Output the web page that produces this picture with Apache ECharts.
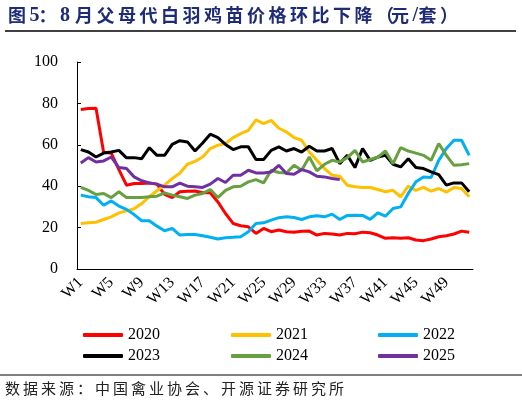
<!DOCTYPE html>
<html>
<head>
<meta charset="utf-8">
<script src="https://cdn.jsdelivr.net/npm/echarts@6/dist/echarts.min.js"></script>
<style>
html, body { margin: 0; padding: 0; background: #fff; }
#chart { width: 522px; height: 405px; }
</style>
</head>
<body>
<div id="chart"></div>
<script>
// 周次 W1..W52
var weeks = [];
for (var w = 1; w <= 52; w++) weeks.push('W' + w);

var years = ['2020', '2021', '2022', '2023', '2024', '2025'];
var colors = ['#ff0000', '#ffc000', '#00b0f0', '#000000', '#66a040', '#7030a0'];

var y2020 = [77, 77.5, 77.7, 56.3, 56, 48, 40.5, 41.3, 41.3, 41.5, 41, 36, 34.5, 37.3, 37.6, 37.7, 36.8, 36.8, 32.4, 26.8,
  22, 20.9, 20.4, 17.2, 19.6, 18, 18.8, 18, 17.7, 18.2, 18.3, 16.4, 17.2, 16.9, 16.4, 17.2, 17, 17.8, 17.5, 16.4,
  14.8, 15.1, 14.8, 15.1, 14, 13.7, 14.5, 15.6, 16.1, 16.9, 18.3, 17.8];
var y2021 = [22, 22.3, 22.6, 23.9, 25.2, 27.1, 28.1, 29.1, 31.6, 34.9, 37.8, 40.5, 43.7, 46.3, 50.6, 52, 54.1, 58.2, 59.8, 60.6,
  63.5, 65.4, 67, 72.1, 70.2, 71.8, 68, 66.2, 63.5, 62.2, 56.5, 52.5, 48.5, 45.3, 44.8, 40.5, 39.7, 39.4, 39.4, 38.4,
  37.3, 38, 34.9, 40, 38, 39.4, 37.6, 38.9, 37.1, 39.4, 38.9, 34.9];
var y2022 = [35.7, 34.9, 34.5, 30.8, 32.9, 30.4, 28.8, 26.3, 23.3, 23.3, 20.7, 18.5, 19.6, 16.4, 16.7, 16.7, 16.1, 15.3, 14.5, 15.1,
  15.3, 15.6, 18, 22, 22.3, 23.6, 24.8, 25.2, 24.9, 23.9, 25.2, 25.7, 25.2, 26.5, 23.9, 25.9, 26, 25.9, 24, 27.1,
  25.5, 29.2, 30, 36.5, 42.1, 44.5, 44.2, 52.5, 58.2, 62.2, 62.2, 54.9];
var y2023 = [57.7, 56.5, 54.1, 56, 56.5, 57.3, 53.7, 53.8, 53.3, 58.6, 54.9, 54.9, 60.2, 62, 61.4, 57, 60.9, 65.1, 63.5, 60.2,
  57.7, 59, 59, 52.9, 52.9, 57.3, 59, 57, 58.2, 56.5, 59.3, 57, 57, 58.2, 50.9, 54.9, 49, 58.2, 52.5, 54.1,
  54.9, 50.6, 49.3, 53.3, 49, 48.5, 46.9, 45.6, 40.5, 41.6, 41.6, 37.3];
var y2024 = [39.4, 38, 36, 36.5, 34.5, 37.3, 34.5, 34.5, 34.5, 34.9, 35.2, 36.8, 35.7, 34.9, 34.1, 35.7, 36.5, 38.4, 34.5, 38,
  39.7, 40, 42.1, 43.2, 41.6, 47.7, 46.6, 46.4, 50.1, 47.7, 54.1, 47.4, 50.6, 52.5, 51.7, 53.8, 57.3, 51.7, 52.9, 54,
  57, 50.9, 58.6, 57, 56, 54.9, 52.5, 60.6, 54.9, 50.1, 50.4, 50.9];
var y2025 = [51.2, 53.8, 51.7, 52.2, 54.1, 49, 48.5, 44.5, 42.6, 41.6, 41, 39.7, 39.7, 41.5, 40, 39.7, 39.4, 41, 43.7, 41.8,
  45.3, 45.3, 47.7, 46.4, 46.4, 46.9, 50.1, 46.1, 45.8, 48, 46.9, 44.8, 44.5, 43.7, 43.2];

var yTicks = { min: 0, max: 100, interval: 20 };

var titleText = '图5：8 月父母代白羽鸡苗价格环比下降（元/套）';
var sourceText = '数据来源：中国禽业协会、开源证券研究所';

var serif = '"Liberation Serif", "Times New Roman", serif';
var cjk = '"Noto Sans CJK SC", sans-serif';

var allData = [y2020, y2021, y2022, y2023, y2024, y2025];
var series = years.map(function (name, i) {
  return {
    name: name,
    type: 'line',
    data: allData[i],
    symbol: 'none',
    showSymbol: false,
    lineStyle: { color: colors[i], width: 3 },
    itemStyle: { color: colors[i] },
    animation: false
  };
});

// 标题逐字排, 原图字距较宽
var halfW = { '5': 9, '8': 9, ' ': 6, '/': 6, '（': 15 };
var titleEls = [];
var tx = 8;
titleText.split('').forEach(function (ch) {
  var ascii = /[0-9\/ ]/.test(ch);
  titleEls.push({
    type: 'text',
    left: tx,
    top: 6,
    style: {
      text: ch,
      font: 'bold ' + (ascii ? '20px ' + serif : '18px ' + cjk),
      fill: '#1d2b78'
    }
  });
  tx += halfW[ch] !== undefined ? halfW[ch] : 21.5;
});

// 数据来源一行, 逐字摆放以保留字距
var footer = sourceText.split('').map(function (ch, i) {
  return {
    type: 'text',
    left: 5 + i * 18,
    top: 381,
    style: { text: ch, font: '15px ' + cjk, fill: '#222' }
  };
});

var legendBase = {
  orient: 'vertical',
  top: 322,
  itemWidth: 40,
  itemHeight: 4,
  itemGap: 5,
  icon: 'roundRect',
  textStyle: { fontFamily: serif, fontSize: 16, color: '#000' }
};

var option = {
  backgroundColor: '#fff',
  animation: false,
  color: colors,
  legend: [
    Object.assign({}, legendBase, { left: 78, data: ['2020', '2023'] }),
    Object.assign({}, legendBase, { left: 226, data: ['2021', '2024'] }),
    Object.assign({}, legendBase, { left: 373, data: ['2022', '2025'] })
  ],
  grid: { left: 77, right: 49, top: 62, bottom: 136, containLabel: false },
  xAxis: {
    type: 'category',
    data: weeks,
    boundaryGap: true,
    axisLine: { lineStyle: { color: '#000', width: 1 } },
    axisTick: { inside: true, length: 4, interval: 3, lineStyle: { color: '#000' } },
    axisLabel: { interval: 3, rotate: 45, margin: 11, fontFamily: serif, fontSize: 16, color: '#000' },
    splitLine: { show: false }
  },
  yAxis: {
    type: 'value',
    min: yTicks.min,
    max: yTicks.max,
    interval: yTicks.interval,
    axisLine: { show: true, lineStyle: { color: '#000', width: 1 } },
    axisTick: { show: true, inside: true, length: 4, lineStyle: { color: '#000' } },
    axisLabel: { margin: 19, fontFamily: serif, fontSize: 16, color: '#000' },
    splitLine: { show: false }
  },
  graphic: [
    { type: 'line', shape: { x1: 5, y1: 31, x2: 516, y2: 31 }, style: { stroke: '#000', lineWidth: 1.5 } },
    { type: 'line', shape: { x1: 0, y1: 375, x2: 522, y2: 375 }, style: { stroke: '#000', lineWidth: 1 } }
  ].concat(titleEls, footer),
  series: series
};

var chart = echarts.init(document.getElementById('chart'));
chart.setOption(option);
</script>
</body>
</html>
